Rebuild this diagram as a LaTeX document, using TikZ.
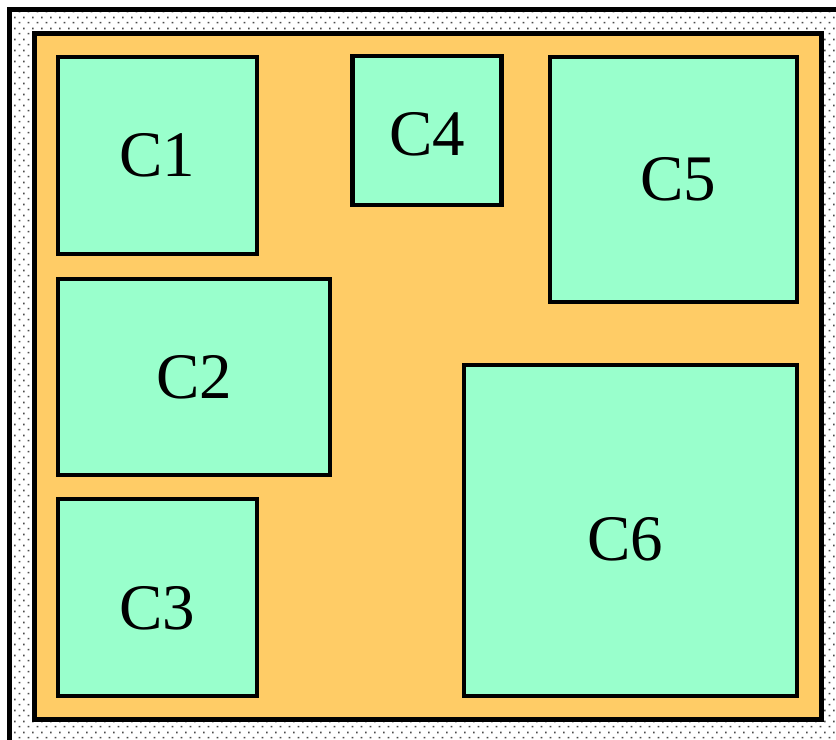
\documentclass[tikz,border=0pt]{standalone}
\usepackage{fontspec}
\setmainfont{Liberation Serif}
\usepackage{xcolor}
\usetikzlibrary{patterns.meta}

\definecolor{chipfill}{HTML}{FFCC66}
\definecolor{cellfill}{HTML}{99FFCC}

% sparse dots for the outer margin
\tikzdeclarepattern{
  name=margindots,
  type=uncolored,
  bottom left={(0pt,0pt)},
  top right={(5pt,6pt)},
  tile size={(5pt,6pt)},
  code={
    \fill (1.0pt,1.0pt) rectangle ++(0.9pt,0.9pt);
    \fill (3.5pt,4.0pt) rectangle ++(0.9pt,0.9pt);
  }
}

\begin{document}
\begin{tikzpicture}[
    x=0.02cm, y=-0.02cm,
    cellbox/.style={rectangle, draw=black, fill=cellfill, line width=2.8pt, inner sep=0pt, align=center, font=\fontsize{37}{40}\selectfont},
    chip/.style={draw=black, fill=chipfill, line width=2.8pt},
    frame/.style={draw=black, line width=2.3pt, pattern={margindots}, pattern color=black!70},
  ]
    \useasboundingbox (0,0) rectangle (836,740);
    \clip (0,0) rectangle (836,740);

    % Outer frame (runs off at right and bottom)
    \fill[white] (0,0) rectangle (836,740);
    \draw[frame] (9.5,9.5) rectangle (880,790);

    % Chip area
    \draw[chip] (34.5,33.5) rectangle (821.5,719.5);

    % Cells
    \node[cellbox, minimum width=3.98cm, minimum height=3.94cm] (c1) at (157.5,155.5) {C1};
    \node[cellbox, minimum width=5.44cm, minimum height=3.92cm] (c2) at (194,377) {C2};
    \node[cellbox, minimum width=3.98cm, minimum height=3.94cm] (c3) at (157.5,597.5) {};
    \node[cellbox, minimum width=2.98cm, minimum height=2.98cm] (c4) at (427,130.5) {};
    \node[cellbox, minimum width=4.94cm, minimum height=4.90cm] (c5) at (673.5,179.5) {};
    \node[cellbox, minimum width=6.66cm, minimum height=6.62cm] (c6) at (630.5,530.5) {};

    % Labels set off-centre
    \node[font=\fontsize{37}{40}\selectfont] (c3label) at ([yshift=-0.22cm]c3.center) {C3};
    \node[font=\fontsize{37}{40}\selectfont] (c4label) at ([yshift=-0.08cm]c4.center) {C4};
    \node[font=\fontsize{37}{40}\selectfont] (c5label) at ([xshift=0.1cm]c5.center) {C5};
    \node[font=\fontsize{37}{40}\selectfont] (c6label) at ([xshift=-0.1cm,yshift=-0.18cm]c6.center) {C6};

  \end{tikzpicture}
\end{document}
